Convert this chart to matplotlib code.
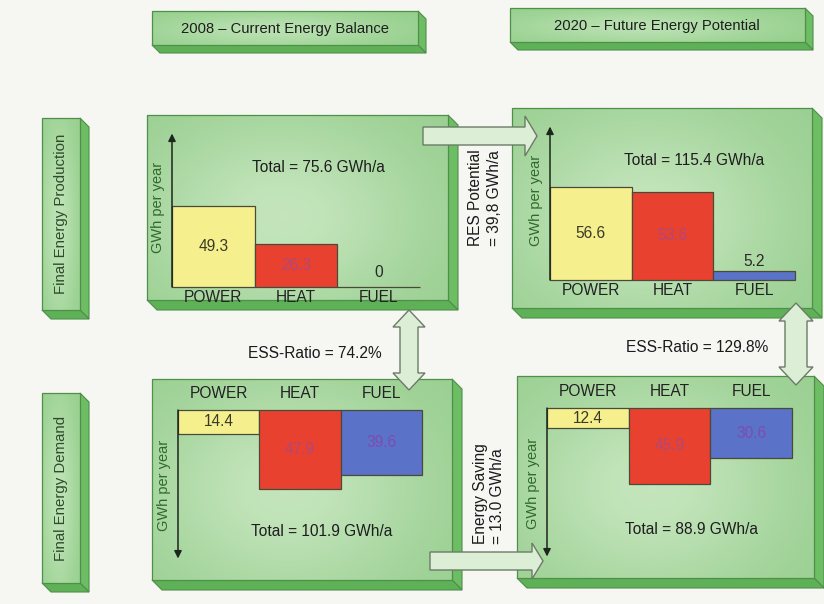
import numpy as np
import matplotlib.pyplot as plt
from matplotlib.patches import Polygon, Rectangle
from matplotlib.colors import LinearSegmentedColormap
from matplotlib import font_manager

# data (GWh per year)
categories = ['POWER', 'HEAT', 'FUEL']
prod_2008 = [49.3, 26.3, 0.0]
prod_2020 = [56.6, 53.6, 5.2]
dem_2008 = [14.4, 47.9, 39.6]
dem_2020 = [12.4, 45.9, 30.6]

bar_colors = ['#f5ef8e', '#e8412f', '#5a72c8']
val_colors = ['#3a3a28', '#b0487a', '#7d4cae']

W, H = 824, 604
S = 1.65  # pixels per GWh
FS = 11.2

names = {f.name for f in font_manager.fontManager.ttflist}
FONT = 'Liberation Sans'
NARROW = 'Liberation Sans Narrow' if 'Liberation Sans Narrow' in names else FONT
plt.rcParams['font.family'] = [FONT, 'DejaVu Sans']

fig = plt.figure(figsize=(W / 100, H / 100), dpi=100)
fig.patch.set_facecolor('#f6f6f3')
bg = fig.add_axes([0, 0, 1, 1])
bg.set_axis_off()

EDGE = '#4f8f4a'


def box3d(x0, y0, x1, y1, d=10, light='#c4e5bc', dark='#9bd093'):
    bg.add_patch(Polygon([(x1, y0), (x1 + d, y0 + d), (x1 + d, y1 + d), (x1, y1)],
                         closed=True, fc='#6cbd63', ec=EDGE, lw=0.8, zorder=1))
    bg.add_patch(Polygon([(x0, y1), (x1, y1), (x1 + d, y1 + d), (x0 + d, y1 + d)],
                         closed=True, fc='#5fb158', ec=EDGE, lw=0.8, zorder=1))
    gx, gy = np.meshgrid(np.linspace(0, 1, 80), np.linspace(0, 1, 80))
    z = np.exp(-((gx - 0.45) ** 2 / 0.22 + (gy - 0.55) ** 2 / 0.3))
    cmap = LinearSegmentedColormap.from_list('g', [dark, light])
    bg.imshow(z, cmap=cmap, extent=(x0, x1, y1, y0), origin='upper',
              interpolation='bilinear', aspect='auto', zorder=2)
    bg.add_patch(Rectangle((x0, y0), x1 - x0, y1 - y0, fc='none', ec=EDGE, lw=0.9, zorder=3))


def block(pts):
    bg.add_patch(Polygon(pts, closed=True, fc='#dcefd6', ec='#6b7b67', lw=1.0, zorder=6))


def harrow(x0, x1, yc, bw, hw, hl):
    block([(x0, yc - bw), (x1 - hl, yc - bw), (x1 - hl, yc - hw), (x1, yc),
           (x1 - hl, yc + hw), (x1 - hl, yc + bw), (x0, yc + bw)])


def varrow2(cx, yt, yb, hw, bw, hl):
    block([(cx, yt), (cx + hw, yt + hl), (cx + bw, yt + hl), (cx + bw, yb - hl),
           (cx + hw, yb - hl), (cx, yb), (cx - hw, yb - hl), (cx - bw, yb - hl),
           (cx - bw, yt + hl), (cx - hw, yt + hl)])


# title boxes and row labels
tfs = 12.5 if NARROW != FONT else 10.6
box3d(152, 11, 418, 45, d=8, light='#b9e1b1', dark='#95cf8c')
bg.text(285, 29, '2008 – Current Energy Balance', ha='center', va='center',
        fontsize=tfs, family=NARROW, color='#1e1e1e', zorder=5)
box3d(510, 8, 805, 42, d=8, light='#b9e1b1', dark='#95cf8c')
bg.text(657, 26, '2020 – Future Energy Potential', ha='center', va='center',
        fontsize=tfs, family=NARROW, color='#1e1e1e', zorder=5)

box3d(42, 118, 80, 310, d=9, light='#bde3b5', dark='#98d08f')
bg.text(61, 214, 'Final Energy Production', rotation=90, ha='center', va='center',
        fontsize=10.8, color='#2f4a2c', zorder=5)
box3d(42, 393, 80, 583, d=9, light='#bde3b5', dark='#98d08f')
bg.text(61, 488, 'Final Energy Demand', rotation=90, ha='center', va='center',
        fontsize=10.8, color='#2f4a2c', zorder=5)

# panels
box3d(147, 115, 448, 300)
box3d(512, 108, 812, 308)
box3d(152, 379, 452, 580)
box3d(517, 376, 814, 578)

bg.set_xlim(0, W)
bg.set_ylim(H, 0)

tot = [sum(prod_2008), sum(prod_2020), sum(dem_2008), sum(dem_2020)]

# connecting arrows and ratios
harrow(423, 537, 136, 9, 20, 12)
harrow(430, 543, 561, 9, 18, 11)
varrow2(409, 310, 390, 16, 9, 17)
varrow2(796, 303, 385, 17, 11, 18)

txt = dict(fontsize=FS, color='#1a1a1a', zorder=7)
bg.text(315, 353, f'ESS-Ratio = {tot[0] / tot[2] * 100:.1f}%', ha='center', va='center', **txt)
bg.text(697, 347, f'ESS-Ratio = {tot[1] / tot[3] * 100:.1f}%', ha='center', va='center', **txt)
bg.text(476, 246, 'RES Potential', rotation=90, ha='center', va='bottom', **txt)
bg.text(495, 246, f'= {tot[1] - tot[0]:.1f} GWh/a'.replace('.', ','), rotation=90,
        ha='center', va='bottom', **txt)
bg.text(481, 544, 'Energy Saving', rotation=90, ha='center', va='bottom', **txt)
bg.text(498, 544, f'= {tot[2] - tot[3]:.1f} GWh/a', rotation=90, ha='center', va='bottom', **txt)


def bar_axes(xl, xr, y0, span, down=False):
    h = span * S
    yb = y0 + h if down else y0
    ax = fig.add_axes([xl / W, 1 - yb / H, (xr - xl) / W, h / H])
    ax.set_xlim(-0.5, 2.5)
    ax.set_ylim((span, 0) if down else (0, span))
    ax.set_axis_off()
    unit = (xr - xl) / 3.0
    return ax, unit


def draw(ax, unit, vals, span, total, down):
    x = np.arange(len(vals))
    ax.bar(x, vals, width=1.0, color=bar_colors, edgecolor='#4a4a38', linewidth=0.9, clip_on=False)
    ax.annotate('', xy=(-0.5, span), xytext=(-0.5, 0), annotation_clip=False,
                arrowprops=dict(arrowstyle='-|>', color='#1d261d', lw=1.1, mutation_scale=11,
                                shrinkA=0, shrinkB=0))
    for i, v in enumerate(vals):
        if v >= 10:
            ax.text(i, v / 2, f'{v:.1f}', ha='center', va='center', fontsize=FS,
                    color=val_colors[i], clip_on=False)
        else:
            ax.text(i, max(v, 3) + 1.5, '0' if v == 0 else f'{v:.1f}', ha='center',
                    va='bottom', fontsize=FS, color='#2a2a2a', clip_on=False)
    cy = -16 / S if down else -11 / S
    for i, c in enumerate(categories):
        ax.text(i, cy, c, ha='center', va='center', fontsize=FS, color='#222222', clip_on=False)
    ax.text(1.27, (121 if down else 119) / S, f'Total = {total:.1f} GWh/a', ha='center',
            va='center', fontsize=FS, color='#1e1e1e', clip_on=False)
    ax.text(-0.5 - 14 / unit, (75 if down else 80) / S, 'GWh per year', rotation=90,
            ha='center', va='center', fontsize=10.5, color='#2f6a2b', clip_on=False)


ax, u = bar_axes(172, 420, 287, 93)
draw(ax, u, prod_2008, 93, tot[0], False)
ax, u = bar_axes(550, 795, 280, 93)
draw(ax, u, prod_2020, 93, tot[1], False)
ax, u = bar_axes(178, 422, 410, 90, down=True)
draw(ax, u, dem_2008, 90, tot[2], True)
ax, u = bar_axes(547, 792, 408, 90, down=True)
draw(ax, u, dem_2020, 90, tot[3], True)

fig.savefig('out.png', dpi=100, facecolor=fig.get_facecolor())
